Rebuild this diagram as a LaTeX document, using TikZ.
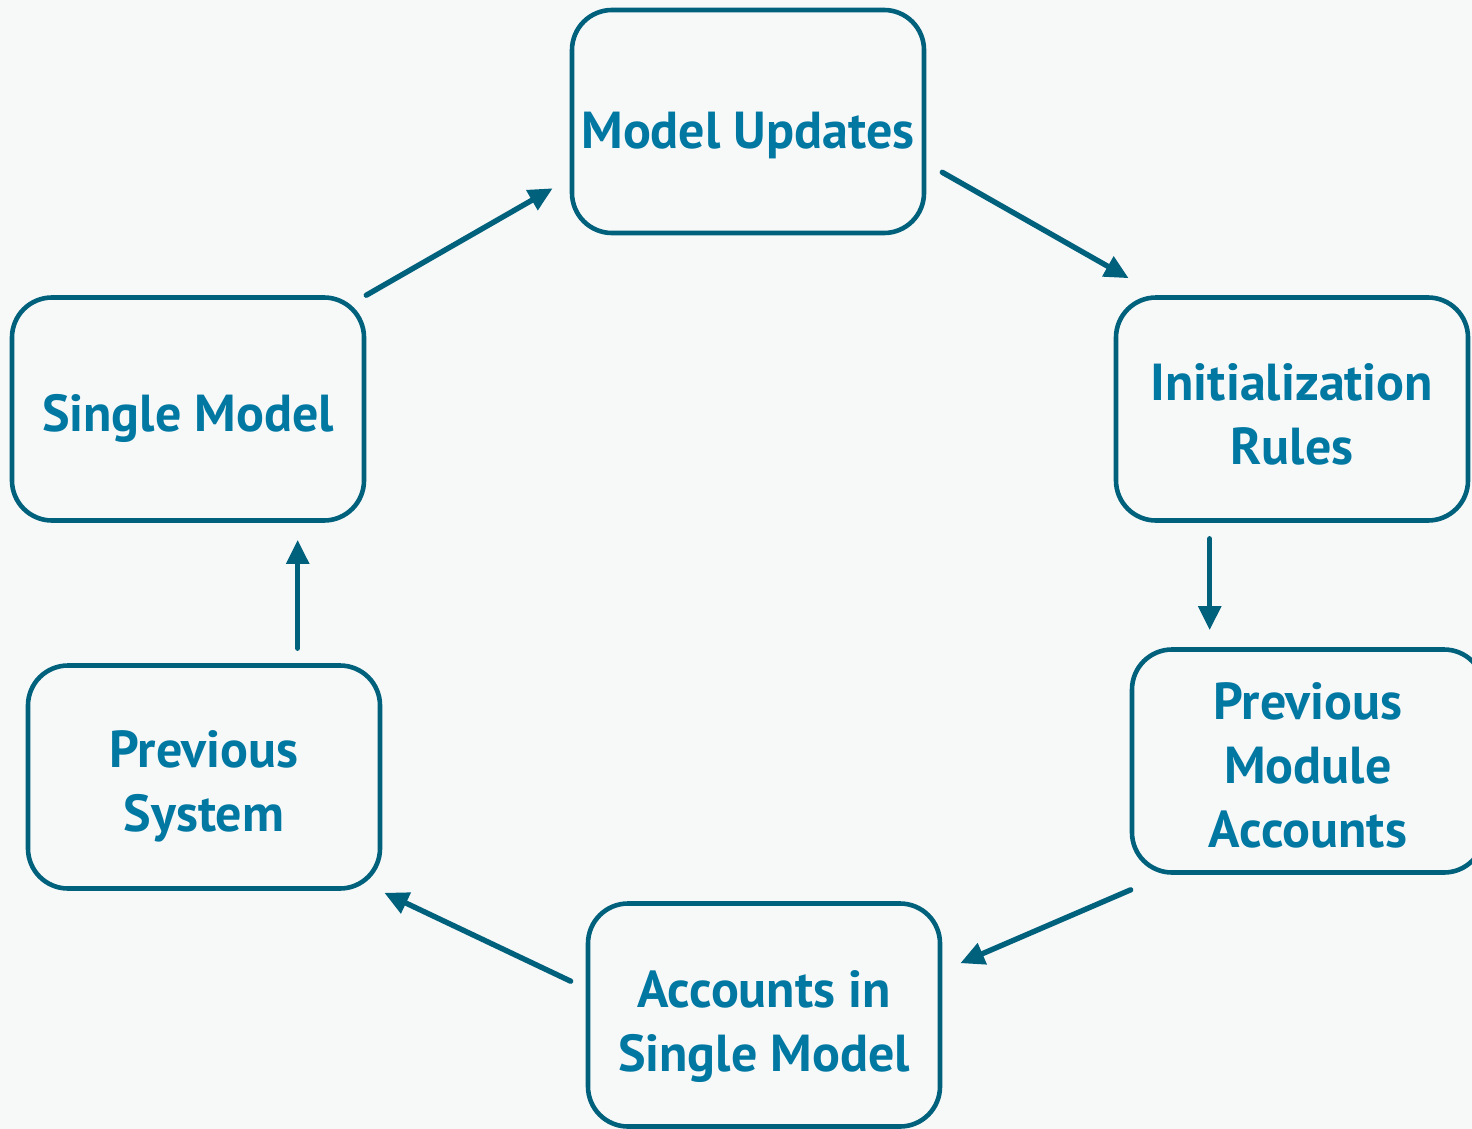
\documentclass[tikz,border=0pt]{standalone}
\usepackage{fontspec}
\setmainfont{PT Sans}
\usetikzlibrary{arrows.meta,calc}
\definecolor{boxline}{HTML}{00617C}
\definecolor{boxtext}{HTML}{0078A2}
\definecolor{paper}{HTML}{F7F8F8}
\newcommand{\dropto}[1]{\rule{0pt}{#1}}
\tikzset{
  stage/.style={draw=boxline, line width=2.3pt, rounded corners=20pt,
    minimum width=176pt, minimum height=111.5pt, align=center,
    text=boxtext, font=\fontsize{26}{32}\selectfont\bfseries, inner sep=0pt},
  flow/.style={draw=boxline, line width=2.7pt, line cap=round,
    -{Triangle[length=12pt,width=11pt]}}
}
\begin{document}
\begin{tikzpicture}[x=0.5pt,y=-0.5pt]
        % page and background
        \fill[paper] (0,0) rectangle (1472,1129);
        \useasboundingbox (0,0) rectangle (1472,1129);
        % stages of the cycle
        \node[stage] (mu) at (748,121.5) {\dropto{32.5pt}Model Updates};
        \node[stage] (ir) at (1292,409) {\dropto{23.5pt}Initialization\\Rules};
        \node[stage] (pma) at (1308,761) {\dropto{23pt}Previous\\Module\\Accounts};
        \node[stage] (asm) at (764,1015) {\dropto{30pt}Accounts in\\Single Model};
        \node[stage] (ps) at (204,777) {\dropto{27.5pt}Previous\\System};
        \node[stage] (sm) at (188,409) {\dropto{28.5pt}Single Model};
        % arrows between stages
        \draw[flow] (sm.north east) -- ($(mu.south west)+(-17,-47)$);
        \draw[flow] ($(mu.south east)+(16,-63)$) -- ($(ir.north west)+(15,-17)$);
        \draw[flow] ($(ir.south west)+(96,16)$) -- ($(pma.north west)+(80,-17)$);
        \draw[flow] ($(pma.south west)+(1,15)$) -- ($(asm.north east)+(18,62)$);
        \draw[flow] ($(asm.north west)+(-15,80)$) -- ($(ps.south east)+(2,2)$);
        \draw[flow] ($(ps.north west)+(272,-15)$) -- ($(sm.south west)+(288,17)$);
    \end{tikzpicture}
\end{document}
